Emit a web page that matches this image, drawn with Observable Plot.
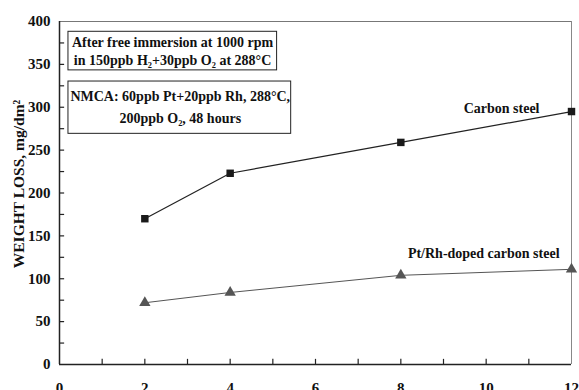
<!DOCTYPE html>
<html><head><meta charset="utf-8">
<script src="https://cdn.jsdelivr.net/npm/d3@7"></script>
<script src="https://cdn.jsdelivr.net/npm/@observablehq/plot@0.6"></script>
<style>
body{margin:0;background:#fff}
svg, svg text{font-family:"Liberation Serif","Times New Roman",serif !important;font-weight:bold}
</style>
</head><body><div id="chart"></div>
<script>
const hours = [2, 4, 8, 12];
const carbonSteel = [170, 223, 259, 295];
const ptRhSteel = [72, 84, 104, 111];
const xTicks = [0, 2, 4, 6, 8, 10, 12];
const xMinor = [1, 2, 3, 4, 5, 6, 7, 8, 9, 10, 11];
const yTicks = [0, 50, 100, 150, 200, 250, 300, 350, 400];
const yMinor = [25, 50, 75, 100, 125, 150, 175, 200, 225, 250, 275, 300, 325, 350, 375];
const yTitle = "WEIGHT LOSS, mg/dm²";
const box1Lines = ["After free immersion at 1000 rpm", "in 150ppb H₂+30ppb O₂ at 288°C"];
const box2Lines = ["NMCA: 60ppb Pt+20ppb Rh, 288°C,", "200ppb O₂, 48 hours"];
const seriesLabels = ["Carbon steel", "Pt/Rh-doped carbon steel"];

const cs = hours.map((h, i) => ({x: h, y: carbonSteel[i]}));
const pr = hours.map((h, i) => ({x: h, y: ptRhSteel[i]}));

const chart = Plot.plot({
  width: 579, height: 390,
  marginLeft: 59, marginRight: 8, marginTop: 21, marginBottom: 26,
  x: {domain: [0, 12]},
  y: {domain: [0, 400]},
  style: {fontWeight: "bold", fontSize: "14px", background: "#fff", color: "#111"},
  marks: [
    Plot.ruleY([400], {stroke: "#777", strokeWidth: 1}),
    Plot.ruleX([12], {stroke: "#888", strokeWidth: 1}),
    Plot.ruleX(xMinor, {y1: 0, y2: 6, stroke: "#222", strokeWidth: 1.2}),
    Plot.ruleY(yMinor, {x1: 0, x2: 0.12, stroke: "#222", strokeWidth: 1.2}),
    Plot.ruleX([0], {stroke: "#222", strokeWidth: 1.5}),
    Plot.ruleY([0], {stroke: "#222", strokeWidth: 1.5}),
    Plot.axisY({ticks: yTicks, tickSize: 0, tickPadding: 9, label: null, fontSize: 15, fontWeight: "bold"}),
    Plot.axisX({ticks: xTicks, tickSize: 0, tickPadding: 18, label: null, fontSize: 15, fontWeight: "bold"}),
    Plot.text([yTitle], {frameAnchor: "left", textAnchor: "middle", dx: -40, dy: -9, rotate: -90, fontSize: 15.5, fontWeight: "bold"}),
    Plot.line(cs, {x: "x", y: "y", stroke: "#222", strokeWidth: 1.2}),
    Plot.dot(cs, {x: "x", y: "y", symbol: "square", r: 4.2, fill: "#1a1a1a", stroke: "none"}),
    Plot.line(pr, {x: "x", y: "y", stroke: "#555", strokeWidth: 1}),
    Plot.dot(pr, {x: "x", y: "y", symbol: "triangle", r: 4.2, fill: "#555", stroke: "none"}),
    Plot.rect([{x1: 0.21, x2: 5.1, y1: 343, y2: 388}], {x1: "x1", x2: "x2", y1: "y1", y2: "y2", fill: "#fff", stroke: "#222", strokeWidth: 1}),
    Plot.rect([{x1: 0.21, x2: 5.43, y1: 269, y2: 330}], {x1: "x1", x2: "x2", y1: "y1", y2: "y2", fill: "#fff", stroke: "#222", strokeWidth: 1}),
    Plot.text(box1Lines, {x: 2.65, y: (d, i) => [375.5, 354.5][i], fontSize: 14, fontWeight: "bold"}),
    Plot.text(box2Lines, {x: 2.83, y: (d, i) => [312.5, 287][i], fontSize: 14, fontWeight: "bold"}),
    Plot.text([seriesLabels[0]], {x: 11.25, y: 298.5, textAnchor: "end", fontSize: 14, fontWeight: "bold"}),
    Plot.text([seriesLabels[1]], {x: 11.72, y: 129, textAnchor: "end", fontSize: 14, fontWeight: "bold"})
  ]
});
document.getElementById("chart").appendChild(chart);
</script>
</body></html>
